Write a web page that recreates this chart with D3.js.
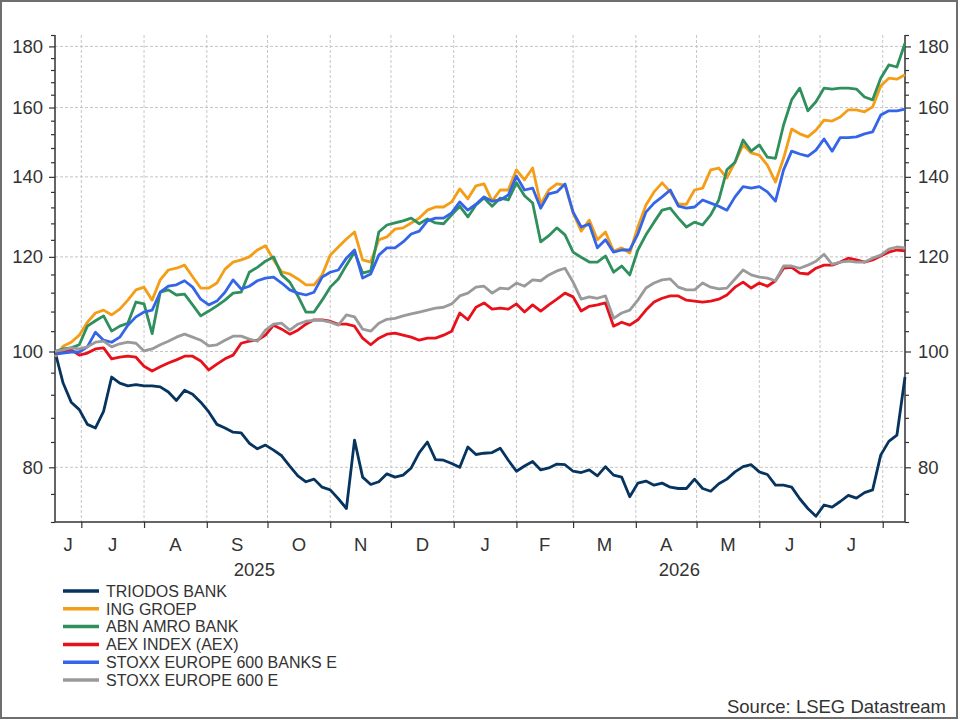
<!DOCTYPE html>
<html>
<head>
<meta charset="utf-8">
<script src="https://cdn.jsdelivr.net/npm/d3@7"></script>
<style>
  body { margin: 0; background: #fff; }
  svg { display: block; font-family: "Liberation Sans", Arial, sans-serif; }
</style>
</head>
<body>
<div id="chart"></div>
<script>
// rebased price series, one value every 4 calendar days from 18 Jun 2025
var dates = d3.timeDay.range(new Date(2025, 5, 18), new Date(2026, 7, 13), 4);

var triodos = [100, 94.1, 90.7, 89.4, 86.9, 86.3, 89.1, 95.2, 94.1, 93.6,
    93.8, 93.6, 93.6, 93.4, 92.5, 91.0, 92.8, 92.1, 90.7, 89.0,
    86.9, 86.3, 85.6, 85.5, 83.8, 82.9, 83.5, 82.7, 81.8, 80.2,
    78.7, 77.8, 78.2, 77.0, 76.6, 75.3, 73.9, 84.3, 78.5, 77.4,
    77.8, 79.0, 78.5, 78.8, 79.9, 82.3, 84.0, 81.2, 81.1, 80.6,
    80.0, 83.2, 82.0, 82.2, 82.3, 83.0, 81.1, 79.4, 80.2, 80.9,
    79.6, 79.9, 80.5, 80.4, 79.4, 79.2, 79.6, 78.7, 80.1, 78.8,
    78.5, 75.6, 77.6, 77.9, 77.3, 77.6, 77.0, 76.8, 76.8, 78.2,
    76.8, 76.4, 77.5, 78.2, 79.3, 80.1, 80.4, 79.3, 78.9, 77.3,
    77.3, 77.0, 75.3, 73.9, 72.8, 74.4, 74.1, 74.9, 75.8, 75.4,
    76.2, 76.6, 81.9, 84.1, 85.1, 95.2];

var ing = [99.0, 101.0, 101.8, 103.2, 105.8, 107.7, 108.3, 107.3, 108.5, 110.4,
    112.6, 113.2, 110.4, 114.8, 117.0, 117.4, 118.1, 115.5, 113.0, 113.0,
    114.1, 117.2, 118.8, 119.3, 120.0, 121.6, 122.6, 119.3, 116.6, 116.1,
    115.0, 113.7, 113.7, 115.9, 120.4, 122.3, 124.2, 125.9, 119.3, 118.8,
    124.0, 124.7, 126.6, 126.9, 128.1, 129.3, 131.3, 132.1, 132.1, 133.4,
    136.8, 134.2, 137.6, 138.1, 133.6, 136.5, 136.5, 141.9, 139.2, 142.4,
    132.8, 136.5, 138.1, 137.8, 130.6, 126.1, 128.8, 124.0, 125.9, 121.3,
    122.1, 120.9, 127.1, 132.6, 136.0, 138.4, 136.0, 132.8, 132.8, 136.5,
    137.0, 141.9, 142.4, 139.7, 144.0, 148.9, 146.6, 146.0, 143.2, 138.6,
    145.1, 153.5, 152.1, 151.2, 153.2, 156.2, 155.9, 157.1, 159.3, 159.3,
    158.7, 160.2, 166.8, 169.3, 169.0, 170.4];

var abn = [100, 100.5, 100.7, 101.3, 105.0, 106.1, 107.1, 104.0, 105.0, 105.6,
    110.0, 109.6, 103.5, 112.1, 112.6, 111.5, 111.7, 109.4, 107.1, 108.1,
    109.2, 110.4, 111.9, 112.1, 116.5, 117.6, 119.0, 120.0, 115.9, 114.3,
    111.3, 107.9, 107.9, 110.4, 113.2, 115.0, 118.1, 121.1, 116.3, 116.8,
    125.9, 127.6, 128.1, 128.6, 129.3, 127.9, 129.1, 128.1, 127.9, 130.1,
    132.3, 129.6, 132.6, 134.4, 132.3, 134.4, 133.9, 138.4, 135.0, 133.1,
    123.5, 125.0, 126.9, 125.2, 121.1, 119.9, 118.8, 118.8, 120.2, 116.5,
    117.9, 115.9, 121.6, 125.2, 128.3, 131.3, 131.8, 129.3, 127.1, 128.3,
    127.6, 130.1, 133.9, 141.9, 144.0, 150.3, 147.1, 148.9, 145.4, 145.1,
    154.7, 162.4, 166.1, 159.0, 161.8, 166.1, 165.8, 166.1, 166.1, 165.8,
    163.3, 162.4, 169.3, 173.7, 173.0, 181.1];

var aex = [100, 99.9, 100.3, 99.3, 99.7, 100.5, 100.7, 98.6, 98.9, 99.1,
    98.9, 97.2, 96.3, 97.1, 97.8, 98.4, 99.1, 99.1, 98.2, 96.5,
    97.6, 98.6, 99.3, 101.6, 102.0, 102.2, 103.2, 105.2, 104.4, 103.4,
    104.2, 105.4, 106.3, 106.3, 106.0, 105.4, 105.4, 105.0, 102.6, 101.3,
    102.6, 103.4, 103.6, 103.2, 102.8, 102.2, 102.6, 102.6, 103.2, 104.0,
    107.7, 106.3, 108.9, 109.8, 108.5, 108.7, 108.5, 109.6, 107.9, 109.4,
    108.1, 109.4, 110.6, 111.9, 111.1, 108.1, 109.1, 109.4, 109.8, 105.0,
    105.8, 105.2, 106.3, 108.3, 110.0, 110.8, 111.3, 111.3, 110.4, 110.2,
    110.0, 110.2, 110.6, 111.5, 113.2, 114.3, 113.0, 114.1, 113.4, 114.6,
    117.4, 117.6, 116.3, 116.1, 117.4, 118.1, 118.1, 118.8, 119.7, 119.3,
    118.8, 119.3, 120.2, 121.1, 121.6, 121.4];

var banks = [99.5, 99.7, 99.9, 99.9, 100.9, 103.8, 102.2, 101.8, 102.8, 105.2,
    106.9, 107.9, 108.3, 112.1, 113.4, 113.7, 114.6, 113.2, 110.6, 109.4,
    110.2, 112.1, 114.8, 112.8, 113.4, 114.6, 115.2, 115.4, 114.1, 112.6,
    111.9, 111.5, 112.1, 115.4, 116.5, 117.0, 119.7, 121.6, 115.2, 116.1,
    120.4, 122.1, 122.1, 123.5, 125.4, 126.1, 128.6, 129.3, 129.3, 130.6,
    133.4, 131.3, 132.8, 134.7, 133.6, 133.9, 135.2, 140.2, 136.5, 137.0,
    131.8, 135.5, 136.0, 138.1, 130.8, 127.1, 127.8, 122.1, 124.0, 121.1,
    121.6, 121.6, 125.4, 130.8, 133.1, 134.7, 136.5, 132.3, 131.8, 132.1,
    133.9, 133.1, 132.3, 131.3, 134.7, 137.4, 137.0, 137.4, 136.0, 133.6,
    141.9, 147.1, 146.3, 145.7, 147.4, 150.6, 147.1, 151.0, 151.0, 151.2,
    152.1, 152.7, 157.7, 159.0, 159.0, 159.5];

var stoxx = [100, 100.3, 100.7, 100.5, 100.9, 101.8, 102.0, 100.9, 101.5, 101.8,
    101.6, 100.1, 100.5, 101.3, 102.0, 102.8, 103.4, 102.8, 102.2, 101.1,
    101.3, 102.2, 103.0, 103.0, 102.4, 102.0, 104.2, 105.4, 105.6, 104.2,
    105.4, 106.0, 106.2, 106.2, 105.8, 105.2, 107.3, 106.9, 104.4, 104.0,
    105.6, 106.4, 106.6, 107.1, 107.5, 107.9, 108.3, 108.7, 108.9, 109.6,
    111.3, 111.9, 113.2, 113.4, 111.9, 113.0, 112.8, 114.1, 113.4, 114.8,
    114.6, 115.9, 116.8, 117.4, 114.3, 110.6, 111.1, 110.8, 111.3, 106.6,
    107.7, 108.3, 110.4, 113.0, 114.1, 114.8, 115.0, 113.2, 112.6, 112.6,
    114.1, 113.2, 112.8, 113.0, 115.0, 117.0, 115.9, 115.4, 115.2, 114.6,
    117.9, 117.9, 117.4, 118.1, 119.0, 120.6, 118.3, 118.8, 119.0, 118.8,
    118.8, 119.7, 120.4, 121.8, 122.3, 122.1];

var seriesNames = ["TRIODOS BANK", "ING GROEP", "ABN AMRO BANK", "AEX INDEX (AEX)",
    "STOXX EUROPE 600 BANKS E", "STOXX EUROPE 600 E"];
var seriesColors = ["#06345f", "#f49d16", "#2f8f5d", "#e8111b", "#3465e8", "#9a9a9a"];
var yMajor = [80, 100, 120, 140, 160, 180];

var series = [triodos, ing, abn, aex, banks, stoxx];

var W = 960, H = 720,
    plotL = 55, plotR = 905, plotT = 35, plotB = 522,
    ink = "#333", axisFont = "18.5px";

var svg = d3.select("#chart").append("svg").attr("width", W).attr("height", H);

svg.append("rect")
    .attr("x", 1).attr("y", 1).attr("width", 956).attr("height", 717)
    .attr("fill", "#fff").attr("stroke", "#6e6e6e").attr("stroke-width", 2);

var x = d3.scaleTime()
    .domain([new Date(2025, 5, 18), new Date(2026, 7, 12)])
    .range([plotL, plotR]);

var y = d3.scaleLog().domain([72, 184]).range([plotB, plotT]);

var yMinor = d3.range(72, 185, 4).filter(function(v) { return yMajor.indexOf(v) < 0; });
var months = d3.timeMonth.range(new Date(2025, 6, 1), x.domain()[1]);

// grid
svg.append("g").selectAll("line").data(yMajor).enter().append("line")
    .attr("x1", plotL).attr("x2", plotR)
    .attr("y1", function(d) { return y(d); }).attr("y2", function(d) { return y(d); })
    .attr("stroke", "#c6c6c6").attr("stroke-dasharray", "3,2");

svg.append("g").selectAll("line").data(months).enter().append("line")
    .attr("x1", function(d) { return x(d); }).attr("x2", function(d) { return x(d); })
    .attr("y1", plotT).attr("y2", plotB)
    .attr("stroke", "#c6c6c6").attr("stroke-dasharray", "3,2");

// axes
function styleAxis(g) {
    g.selectAll(".domain").remove();
    g.selectAll("line").attr("stroke", ink).attr("stroke-width", 1.2);
    g.selectAll("text").attr("fill", ink).style("font-size", axisFont)
        .style("font-family", "'Liberation Sans', Arial, sans-serif");
}

svg.append("g").attr("transform", "translate(" + plotL + ",0)")
    .call(d3.axisLeft(y).tickValues(yMajor).tickFormat(d3.format("d")).tickSize(6).tickPadding(6))
    .call(styleAxis);
svg.append("g").attr("transform", "translate(" + plotL + ",0)")
    .call(d3.axisLeft(y).tickValues(yMinor).tickFormat("").tickSize(4))
    .call(styleAxis);
svg.append("g").attr("transform", "translate(" + plotR + ",0)")
    .call(d3.axisRight(y).tickValues(yMajor).tickFormat(d3.format("d")).tickSize(6).tickPadding(7))
    .call(styleAxis);
svg.append("g").attr("transform", "translate(" + plotR + ",0)")
    .call(d3.axisRight(y).tickValues(yMinor).tickFormat("").tickSize(4))
    .call(styleAxis);
svg.append("g").attr("transform", "translate(0," + plotB + ")")
    .call(d3.axisBottom(x).tickValues(months).tickFormat("").tickSize(6))
    .call(styleAxis);

// spines
svg.append("path")
    .attr("d", "M" + plotL + "," + plotT + "V" + plotB + "H" + plotR + "V" + plotT)
    .attr("fill", "none").attr("stroke", ink).attr("stroke-width", 1.5);

// month letters centred on the visible part of each month
var monthSpans = d3.timeMonth.range(d3.timeMonth.floor(x.domain()[0]), x.domain()[1])
    .map(function(d) {
        var a = Math.max(x(d), plotL), b = Math.min(x(d3.timeMonth.offset(d, 1)), plotR);
        return {d: d, a: a, b: b};
    })
    .filter(function(s) { return s.b - s.a > 24; });

svg.append("g").selectAll("text").data(monthSpans).enter().append("text")
    .attr("x", function(s) { return (s.a + s.b) / 2; })
    .attr("y", 551)
    .attr("text-anchor", "middle").attr("fill", ink).style("font-size", axisFont)
    .text(function(s) { return d3.timeFormat("%b")(s.d).charAt(0); });

var years = [2025, 2026].map(function(yr) {
    var a = Math.max(x(new Date(yr, 0, 1)), plotL), b = Math.min(x(new Date(yr + 1, 0, 1)), plotR);
    return {yr: yr, c: (a + b) / 2};
});
svg.append("g").selectAll("text").data(years).enter().append("text")
    .attr("x", function(d) { return d.c; }).attr("y", 576)
    .attr("text-anchor", "middle").attr("fill", ink).style("font-size", axisFont)
    .text(function(d) { return d.yr; });

// lines
var line = d3.line()
    .x(function(d, i) { return x(dates[i]); })
    .y(function(d) { return y(d); });

svg.append("g").selectAll("path").data(series).enter().append("path")
    .attr("d", function(d) { return line(d); })
    .attr("fill", "none")
    .attr("stroke", function(d, i) { return seriesColors[i]; })
    .attr("stroke-width", 2.8)
    .attr("stroke-linejoin", "round");

// legend
var legend = svg.append("g").selectAll("g").data(seriesNames).enter().append("g")
    .attr("transform", function(d, i) { return "translate(63," + (591 + i * 17.8) + ")"; });
legend.append("line").attr("x1", 0).attr("x2", 36)
    .attr("stroke", function(d, i) { return seriesColors[i]; }).attr("stroke-width", 3.5);
legend.append("text").attr("x", 43).attr("dy", "0.36em")
    .attr("fill", ink).style("font-size", "16px")
    .text(function(d) { return d; });

svg.append("text")
    .attr("x", 946).attr("y", 713).attr("text-anchor", "end")
    .attr("fill", ink).style("font-size", axisFont)
    .text("Source: LSEG Datastream");
</script>
</body>
</html>
